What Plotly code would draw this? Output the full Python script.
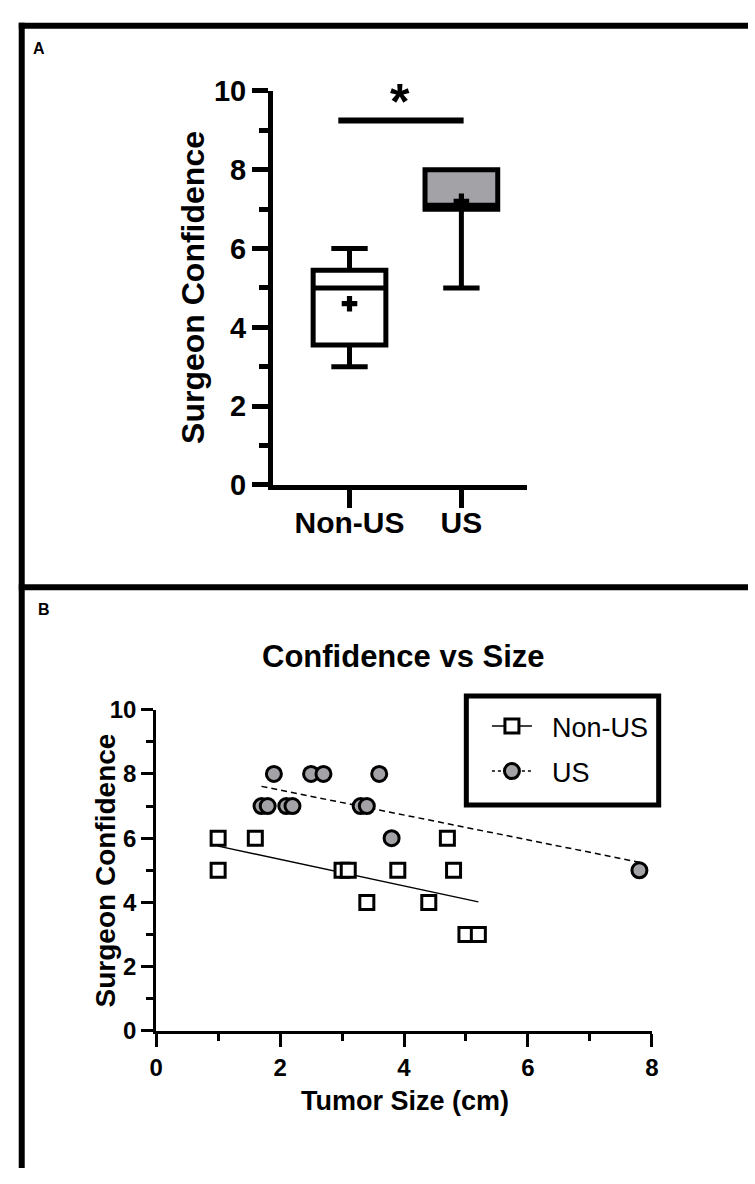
import plotly.graph_objects as go
import numpy as np

W, H = 755, 1184

# ---------------- Panel A data ----------------
groups = ["Non-US", "US"]
box_min = [3.0, 5.0]
box_q1 = [3.55, 7.0]
box_median = [5.0, 7.1]
box_q3 = [5.45, 8.0]
box_max = [6.0, 8.0]
box_mean = [4.6, 7.2]
box_fill = ["white", "#a2a2a7"]
sig_label = "*"
sig_y = 9.25

# ---------------- Panel B data ----------------
nonus_size = [1.0, 1.6, 4.7, 1.0, 3.0, 3.1, 3.9, 4.8, 3.4, 4.4, 5.0, 5.2]
nonus_conf = [6, 6, 6, 5, 5, 5, 5, 5, 4, 4, 3, 3]
us_size = [1.9, 2.5, 2.7, 3.6, 1.7, 1.8, 2.1, 2.2, 3.3, 3.4, 3.8, 7.8]
us_conf = [8, 8, 8, 8, 7, 7, 7, 7, 7, 7, 6, 5]
y_ticks = [0, 2, 4, 6, 8, 10]
x_ticks_b = [0, 2, 4, 6, 8]
legend_names = ["Non-US", "US"]


def px(x):
    return x / W


def py(y):
    return 1 - y / H


FONT = "Liberation Sans, Arial, sans-serif"
fig = go.Figure()

# ---- Panel A boxes ----
for i, g in enumerate(groups):
    fig.add_trace(go.Box(
        x=[g], q1=[box_q1[i]], median=[box_median[i]], q3=[box_q3[i]],
        lowerfence=[box_min[i]], upperfence=[box_max[i]],
        fillcolor=box_fill[i], line=dict(color="black", width=5),
        width=0.65, whiskerwidth=0.5, boxpoints=False,
        xaxis="x", yaxis="y", showlegend=False, hoverinfo="skip"))

fig.add_trace(go.Scatter(
    x=groups, y=box_mean, mode="markers", xaxis="x", yaxis="y",
    marker=dict(symbol="cross", size=13, color="black"),
    showlegend=False, hoverinfo="skip"))

# ---- Panel B regression lines ----
for xs, ys, dash in [(nonus_size, nonus_conf, "solid"), (us_size, us_conf, "6px,4px")]:
    xa = np.array(xs)
    ya = np.array(ys, dtype=float)
    k, b = np.polyfit(xa, ya, 1)
    xl = np.array([xa.min(), xa.max()])
    fig.add_trace(go.Scatter(
        x=xl, y=k * xl + b, mode="lines", xaxis="x2", yaxis="y2",
        line=dict(color="black", width=1.5, dash=dash),
        showlegend=False, hoverinfo="skip"))

# ---- Panel B points ----
SQ = dict(symbol="square", size=14, color="white", line=dict(color="black", width=3))
CI = dict(symbol="circle", size=15, color="#a2a2a7", line=dict(color="black", width=3))
fig.add_trace(go.Scatter(
    x=nonus_size, y=nonus_conf, mode="markers", xaxis="x2", yaxis="y2",
    marker=SQ, showlegend=False, hoverinfo="skip"))
fig.add_trace(go.Scatter(
    x=us_size, y=us_conf, mode="markers", xaxis="x2", yaxis="y2",
    marker=CI, showlegend=False, hoverinfo="skip"))

# legend entries
fig.add_trace(go.Scatter(
    x=[None], y=[None], mode="lines+markers", name="\u00a0\u00a0" + legend_names[0],
    xaxis="x2", yaxis="y2", legendgroup="a",
    line=dict(color="black", width=1.5), marker=SQ))
fig.add_trace(go.Scatter(
    x=[None], y=[None], mode="lines+markers", name="\u00a0\u00a0" + legend_names[1],
    xaxis="x2", yaxis="y2", legendgroup="b",
    line=dict(color="black", width=1.5, dash="3px,3px"), marker=CI))

axis_common = dict(showline=True, linecolor="black", ticks="outside", tickcolor="black",
                   showgrid=False, zeroline=False, fixedrange=True)

fig.update_layout(
    width=W, height=H, margin=dict(l=0, r=0, t=0, b=0, pad=0),
    paper_bgcolor="white", plot_bgcolor="white",
    font=dict(family=FONT, color="black"),
    xaxis=dict(**axis_common, domain=[px(271), px(530)], anchor="y",
               type="category", range=[-0.684, 1.588],
               linewidth=5, ticklen=18, tickwidth=5, ticklabelstandoff=-11,
               tickfont=dict(size=30, weight="bold", family=FONT, color="black")),
    yaxis=dict(**axis_common, domain=[py(482), py(77)], anchor="x",
               range=[0, 10], tickvals=y_ticks,
               linewidth=5, ticklen=16, tickwidth=5,
               minor=dict(dtick=1, ticks="outside", ticklen=9, tickwidth=5, tickcolor="black"),
               tickfont=dict(size=29, weight="bold", family=FONT, color="black")),
    xaxis2=dict(**axis_common, domain=[px(152), px(657)], anchor="y2",
                range=[0, 8], tickvals=x_ticks_b,
                linewidth=3, ticklen=13, tickwidth=3,
                minor=dict(dtick=1, ticks="outside", ticklen=7, tickwidth=3, tickcolor="black"),
                tickfont=dict(size=24, weight="bold", family=FONT, color="black")),
    yaxis2=dict(**axis_common, domain=[py(1043), py(713)], anchor="x2",
                range=[0, 10], tickvals=y_ticks,
                linewidth=3, ticklen=12, tickwidth=3,
                minor=dict(dtick=1, ticks="outside", ticklen=7, tickwidth=3, tickcolor="black"),
                tickfont=dict(size=24, weight="bold", family=FONT, color="black")),
    showlegend=True,
    legend=dict(x=px(489), y=py(705), xanchor="left", yanchor="top",
                bgcolor="rgba(0,0,0,0)", borderwidth=0, itemwidth=40,
                font=dict(size=27, family=FONT, color="black"),
                tracegroupgap=7, itemsizing="trace"),
)

shapes = [
    # frame
    dict(type="line", xref="paper", yref="paper", x0=px(12), x1=1, y0=py(10), y1=py(10),
         line=dict(color="black", width=6)),
    dict(type="line", xref="paper", yref="paper", x0=px(15), x1=px(15), y0=py(7), y1=0,
         line=dict(color="black", width=6)),
    dict(type="line", xref="paper", yref="paper", x0=px(12), x1=1, y0=py(587), y1=py(587),
         line=dict(color="black", width=6)),
    # significance bar
    dict(type="line", xref="x", yref="y", x0=-0.1, x1=1.02, y0=sig_y, y1=sig_y,
         line=dict(color="black", width=6)),
    # legend box
    dict(type="rect", xref="paper", yref="paper", x0=px(468), x1=px(664), y0=py(811), y1=py(699),
         line=dict(color="black", width=5)),
]
fig.update_layout(shapes=shapes)

C = dict(xanchor="center", yanchor="middle", showarrow=False, xref="paper", yref="paper")
annotations = [
    dict(text="A", x=px(33), y=py(33), **C,
         font=dict(size=16, weight="bold", family=FONT, color="black")),
    dict(text="B", x=px(37.5), y=py(609.5), **C,
         font=dict(size=16, weight="bold", family=FONT, color="black")),
    dict(text="Surgeon Confidence", x=px(190), y=py(279), textangle=-90, **C,
         font=dict(size=32, weight="bold", family=FONT, color="black")),
    dict(text="Confidence vs Size", x=px(404), y=py(658), **C,
         font=dict(size=31, weight="bold", family=FONT, color="black")),
    dict(text="Tumor Size (cm)", x=px(406), y=py(1115), **C,
         font=dict(size=27, weight="bold", family=FONT, color="black")),
    dict(text="Surgeon Confidence", x=px(100), y=py(878), textangle=-90, **C,
         font=dict(size=28, weight="bold", family=FONT, color="black")),
    dict(text=sig_label, x=0.45, y=9.72, xref="x", yref="y", xanchor="center", yanchor="middle",
         showarrow=False, font=dict(size=50, weight="bold", family=FONT, color="black")),
]
fig.update_layout(annotations=annotations)

fig.write_html("out.html", config={"displayModeBar": False},
               post_script="document.body.style.margin='0px';")
